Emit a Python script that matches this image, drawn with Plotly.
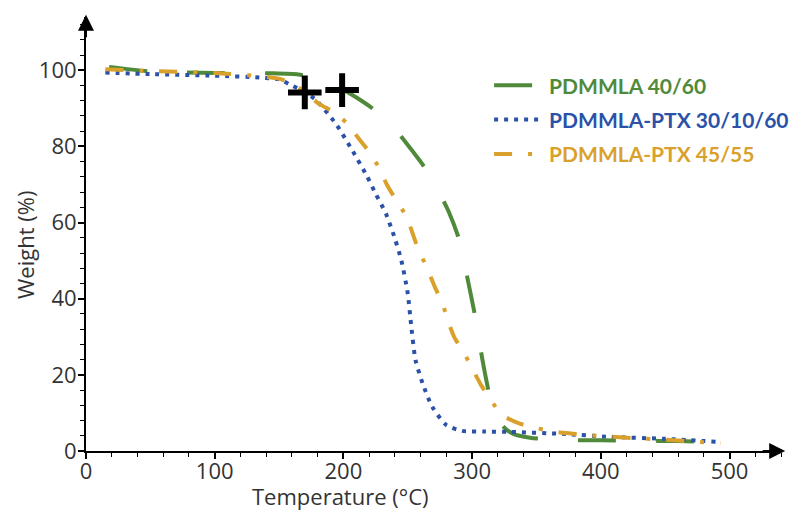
import plotly.graph_objects as go

# ---- data ----
temp_green = [18, 50, 100, 145, 165, 180, 192, 202, 215, 228, 240, 252, 262, 272, 282, 290, 296, 302, 308, 313, 318, 324, 332, 345, 367, 400, 430, 460, 490]
weight_green = [100.9, 99.7, 99.3, 99.2, 98.9, 97.8, 96.3, 94.5, 91.8, 88.6, 84.6, 79.5, 75.0, 69.5, 62.7, 55.5, 46.0, 36.0, 24.0, 15.5, 10.0, 6.5, 4.5, 3.5, 2.9, 2.8, 2.7, 2.6, 2.4]

temp_blue = [15, 50, 100, 135, 150, 160, 170, 179, 194, 206, 218, 225, 233, 240, 245, 250, 252.5, 256, 261.5, 269, 280, 292, 310, 330, 370, 408, 450, 491]
weight_blue = [99.4, 99.0, 98.6, 98.1, 97.6, 96.0, 94.3, 92.1, 86.0, 79.5, 72.4, 67.6, 62.4, 55.8, 50.1, 41.4, 33.5, 23.9, 17.8, 11.6, 6.8, 5.3, 5.1, 5.0, 4.5, 3.7, 3.2, 2.4]

temp_orange = [15, 50, 100, 150, 165, 181, 193, 203, 212, 220, 228, 234, 241, 249, 257.5, 265, 271, 277, 281, 286, 294, 300, 307, 314.5, 323.5, 336, 350, 365, 385, 428, 450, 470, 493]
weight_orange = [100.3, 99.8, 99.3, 97.8, 95.5, 91.2, 89.0, 86.0, 82.0, 78.6, 74.2, 69.8, 65.9, 61.5, 53.6, 48.0, 43.1, 38.8, 34.4, 30.0, 25.6, 21.7, 17.3, 13.4, 9.4, 7.3, 6.0, 5.0, 4.3, 3.3, 3.0, 2.5, 2.1]

temp_marks = [170, 199]
weight_marks = [94.2, 94.8]

series_names = ["PDMMLA 40/60", "PDMMLA-PTX 30/10/60", "PDMMLA-PTX 45/55"]
x_ticks = [0, 100, 200, 300, 400, 500]
y_ticks = [0, 20, 40, 60, 80, 100]

GREEN = "#4f8a3a"
BLUE = "#2b52a8"
ORANGE = "#d9a12b"
TEXT = "#333333"


def legend_name(label, color):
    return f"<span style='color:{color}'><b>{label}</b></span>"


fig = go.Figure()

fig.add_trace(go.Scatter(
    x=temp_green, y=weight_green, mode="lines",
    line=dict(color=GREEN, width=4, dash="38px,40px", shape="spline", smoothing=0.6),
    name=legend_name(series_names[0], GREEN), legendgroup="g"))
fig.add_trace(go.Scatter(
    x=temp_blue, y=weight_blue, mode="lines",
    line=dict(color=BLUE, width=4, dash="4px,6px", shape="spline", smoothing=0.6),
    name=legend_name(series_names[1], BLUE), legendgroup="b"))
fig.add_trace(go.Scatter(
    x=temp_orange, y=weight_orange, mode="lines",
    line=dict(color=ORANGE, width=4, dash="18px,16px,4px,16px", shape="spline", smoothing=0.6),
    name=legend_name(series_names[2], ORANGE), legendgroup="o"))
fig.add_trace(go.Scatter(
    x=temp_marks, y=weight_marks, mode="markers",
    marker=dict(symbol="cross-thin", size=24, line=dict(color="black", width=6)),
    showlegend=False, hoverinfo="skip"))

axis_common = dict(
    showline=True, linecolor="black", linewidth=2,
    showgrid=False, zeroline=False, automargin=False,
    ticks="outside", ticklen=6, tickwidth=1.5, tickcolor="black",
    tickfont=dict(family="Open Sans", size=22, color=TEXT),
)

fig.update_xaxes(range=[0, 540], tickvals=x_ticks, ticklabelstandoff=-6,
                 minor=dict(dtick=20, ticks="outside", ticklen=4, tickwidth=1.2, tickcolor="black"),
                 **axis_common)
fig.update_yaxes(range=[0, 114], tickvals=y_ticks, ticklabelstandoff=-3,
                 minor=dict(dtick=4, ticks="outside", ticklen=4, tickwidth=1.2, tickcolor="black"),
                 **axis_common)

annotations = [
    # axis arrows
    dict(x=1.006, y=0, xref="paper", yref="paper", ax=-24, ay=0, axref="pixel", ayref="pixel",
         showarrow=True, arrowhead=2, arrowsize=1.6, arrowwidth=2, arrowcolor="black", text=""),
    dict(x=0, y=1.005, xref="paper", yref="paper", ax=0, ay=24, axref="pixel", ayref="pixel",
         showarrow=True, arrowhead=2, arrowsize=1.6, arrowwidth=2, arrowcolor="black", text=""),
    # axis titles
    dict(text="Temperature (°C)", x=198, xref="x", y=-0.103, yref="paper",
         xanchor="center", yanchor="middle", showarrow=False,
         font=dict(family="Open Sans", size=22, color=TEXT)),
    dict(text="Weight (%)", x=-0.087, xref="paper", y=54, yref="y",
         xanchor="center", yanchor="middle", textangle=-90, showarrow=False,
         font=dict(family="Open Sans", size=22, color=TEXT)),
]

fig.update_layout(
    width=795, height=502,
    margin=dict(l=78, r=20, t=9, b=59),
    paper_bgcolor="white", plot_bgcolor="white",
    annotations=annotations,
    showlegend=True,
    legend=dict(x=0.58, y=0.889, xanchor="left", yanchor="top",
                font=dict(family="Lato", size=21),
                bgcolor="rgba(0,0,0,0)", tracegroupgap=4, itemwidth=50),
)

fig.write_html("out.html")
